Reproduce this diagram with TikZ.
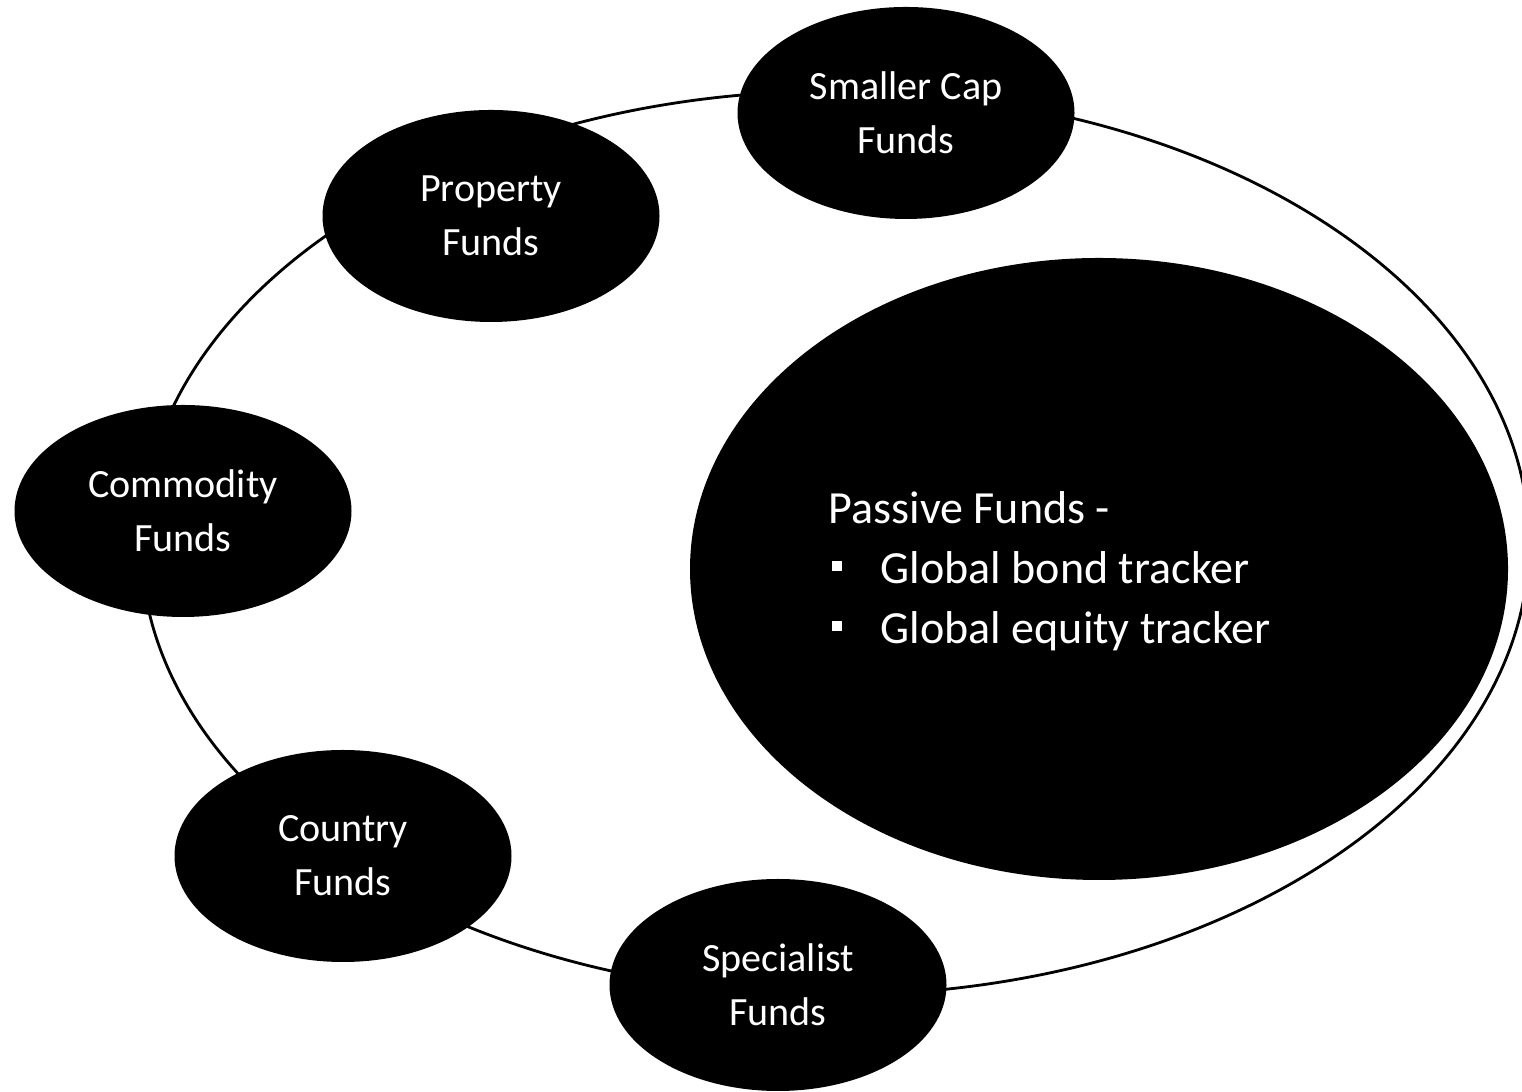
\documentclass[tikz,border=0pt]{standalone}
\usepackage{fontspec}
\setmainfont{Carlito}
\usetikzlibrary{shapes.geometric}
\begin{document}
\begin{tikzpicture}[fund/.style={ellipse, fill=black, text=white, minimum width=3.37cm, minimum height=2.12cm, inner sep=0pt, align=center, font=\fontsize{11.4}{15.4}\selectfont}]
\useasboundingbox (0,0) rectangle (15.22,10.92);
\clip (0,0) rectangle (15.22,10.92);
%Ring:
\draw[thick] (8.35,5.49) ellipse (6.94 and 4.52);
%Passive funds:
\fill (10.99,5.23) ellipse (4.09 and 3.11);
\node[anchor=west, inner sep=0pt, text=white, align=left, font=\fontsize{13.1}{17.1}\selectfont] (passive) at (8.28,5.21) {Passive Funds -\\
\hspace*{0.03cm}\rule[0.12cm]{0.1cm}{0.1cm}\hspace{0.39cm}Global bond tracker\\
\hspace*{0.03cm}\rule[0.12cm]{0.1cm}{0.1cm}\hspace{0.39cm}Global equity tracker};
%Funds on the ring:
\node[fund] (smallcap) at (9.06,9.79) {Smaller Cap\\Funds};
\node[fund] (property) at (4.91,8.76) {Property\\Funds};
\node[fund] (commodity) at (1.83,5.81) {Commodity\\Funds};
\node[fund] (country) at (3.43,2.36) {Country\\Funds};
\node[fund] (specialist) at (7.78,1.07) {Specialist\\Funds};
\end{tikzpicture}
\end{document}
